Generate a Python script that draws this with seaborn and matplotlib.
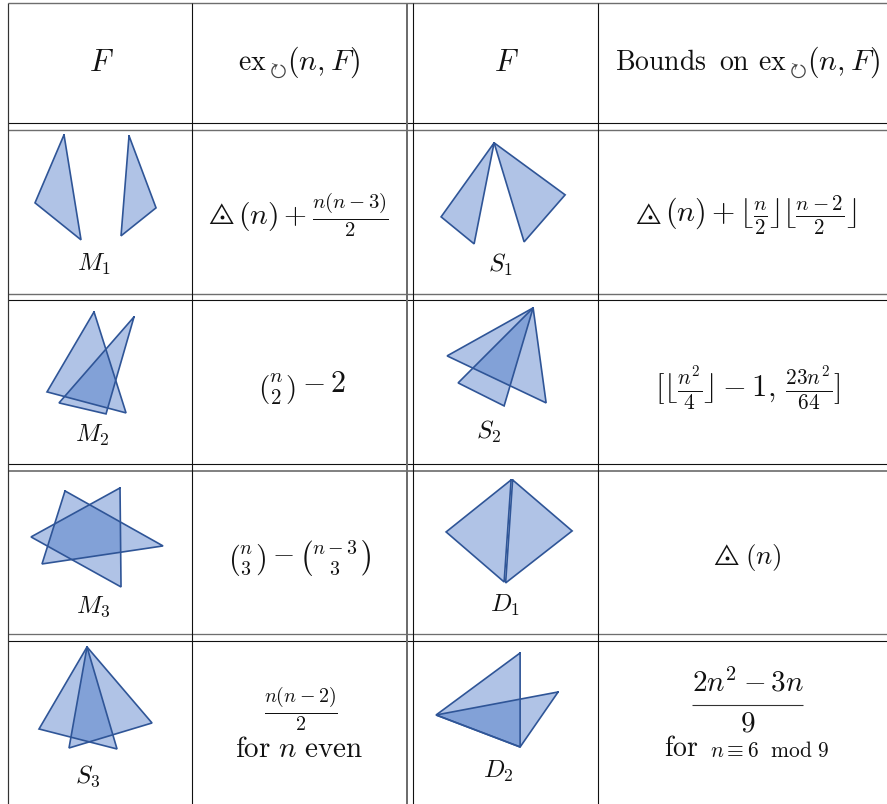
import matplotlib
matplotlib.use("Agg")
import matplotlib.pyplot as plt
import pandas as pd
import seaborn as sns

# Triangles of each configuration (vertices, image pixels)
M1 = [[(64, 135), (35, 203), (81, 240)], [(129, 136), (156, 208), (121, 236)]]
S1 = [[(494, 143), (441, 217), (474, 244)], [(494, 143), (565, 195), (524, 242)]]
M2 = [[(94, 312), (47, 392), (126, 413)], [(134, 317), (59, 403), (106, 414)]]
S2 = [[(533, 308), (447, 356), (546, 403)], [(533, 308), (458, 383), (504, 406)]]
M3 = [[(65, 491), (163, 546), (42, 564)], [(120, 488), (31, 537), (121, 587)]]
D1 = [[(511, 480), (446, 532), (504, 582)], [(512.5, 480), (572, 531), (505.5, 583)]]
S3 = [[(87, 647), (39, 729), (117, 749)], [(87, 647), (152, 723), (69, 748)]]
D2 = [[(520, 653), (436, 715), (520, 747)], [(558, 692), (436, 715), (520, 747)]]
shapes = {"M1": M1, "S1": S1, "M2": M2, "S2": S2, "M3": M3, "D1": D1, "S3": S3, "D2": D2}

# Text of the table
header_f = r"$F$"
header_ex = r"$\mathrm{ex}$"
header_bounds = r"$\mathrm{Bounds}$"
header_on = r"$\mathrm{on}$"
header_arg = r"$(n,F)$"
rotation_sign = r"$\circlearrowright$"
triangle_sign = r"$\triangle$"
shape_labels = [r"$M_1$", r"$S_1$", r"$M_2$", r"$S_2$", r"$M_3$", r"$D_1$", r"$S_3$", r"$D_2$"]
formula_m1 = r"$(n)+\frac{n(n-3)}{2}$"
formula_s1 = r"$(n)+\lfloor\frac{n}{2}\rfloor\lfloor\frac{n-2}{2}\rfloor$"
formula_m2 = r"$\binom{n}{2}-2$"
formula_s2 = r"$[\lfloor\frac{n^2}{4}\rfloor-1,\,\frac{23n^2}{64}]$"
formula_m3 = r"$\binom{n}{3}-\binom{n-3}{3}$"
formula_d1 = r"$(n)$"
formula_s3 = r"$\frac{n(n-2)}{2}$"
formula_d2_num = r"$2n^2-3n$"
formula_d2_den = r"$9$"
note_even = r"$\mathrm{for}\ n\ \mathrm{even}$"
note_for = r"$\mathrm{for}$"
note_mod = r"$n{\equiv}6\ \ \mathrm{mod}\ 9$"

sns.set_theme(style="white")
plt.rcParams["mathtext.fontset"] = "cm"
plt.rcParams["font.family"] = ["DejaVu Serif"]

W, H = 887, 804
fig = plt.figure(figsize=((W + 0.2) / 100, (H + 0.2) / 100), dpi=100)
ax = fig.add_axes([0, 0, 1, 1])

FILL, EDGE = "#4472C4", "#2F5597"
rows = []
for name, tris in shapes.items():
    for i, tri in enumerate(tris):
        ax.fill(*zip(*tri), color=FILL, alpha=0.42, lw=0)
        for x, y in list(tri) + [tri[0]]:
            rows.append({"x": x, "y": y, "u": f"{name}{i}"})
df = pd.DataFrame(rows)
sns.lineplot(data=df, x="x", y="y", units="u", estimator=None, sort=False,
             color=EDGE, lw=1.2, ax=ax, legend=False, solid_joinstyle="miter")

BLACK, GREY = "#111111", "#6e6e6e"
px = 0.72
for y, c, w in [(3.3, GREY, 1.4), (123.3, BLACK, 1.1), (130, GREY, 1.4), (294, GREY, 1.4),
                (300.3, BLACK, 1.1), (464.3, BLACK, 1.1), (470.7, GREY, 1.7), (634.3, GREY, 1.3),
                (641.3, BLACK, 1.1)]:
    ax.plot([8, W], [y, y], color=c, lw=w * px, solid_capstyle="butt")
for x, c, w in [(8.2, "#333333", 1.2), (192.3, BLACK, 1.1), (407.3, GREY, 2.0), (413.3, BLACK, 1.1),
                (597.4, BLACK, 1.1)]:
    ax.plot([x, x], [3, H], color=c, lw=w * px, solid_capstyle="butt")
ax.plot([692, 803], [705, 705], color="#333333", lw=1.1 * px, solid_capstyle="butt")

ax.set_xlim(0, W)
ax.set_ylim(H, 0)
ax.set_axis_off()

TXT = "#111111"
def put(x, y, s, size=20, ha="center", color=TXT):
    ax.text(x, y, s, fontsize=size, ha=ha, va="center", color=color)

# header row
put(101, 62, header_f, 22)
put(506, 62, header_f, 22)
put(238, 62, header_ex, ha="left")
put(276.5, 71, rotation_sign, 14, color="#444444")
put(286.5, 62, header_arg, 21.5, ha="left")
put(615, 62, header_bounds, ha="left")
put(719, 62, header_on, ha="left")
put(758, 62, header_ex, ha="left")
put(796, 71, rotation_sign, 14, color="#444444")
put(807, 62, header_arg, 21.5, ha="left")

# shape names
for (x, y), s in zip([(93.5, 264.5), (500.5, 264.5), (92.5, 435.5), (488.5, 431.5),
                      (93.5, 606.5), (504.5, 605.5), (87.5, 776.5), (498.5, 771.5)], shape_labels):
    put(x, y, s, 18)

# dotted triangles
for x, y, dx, dy in [(220.5, 213.5, 221.5, 217.5), (647.5, 213.5, 649.5, 217.5), (725.5, 554.5, 727, 558)]:
    put(x, y, triangle_sign, 16)
    ax.plot([dx], [dy], "o", ms=1.8, color=TXT)

put(237.5, 215.5, formula_m1, 21.3, ha="left")
put(664.5, 215.5, formula_s1, 21.5, ha="left")
put(744.5, 557.5, formula_d1, 19.5, ha="left")
put(301.5, 388.5, formula_m2, 21.5)
put(747.5, 387.5, formula_s2, 22)
put(299.5, 558.5, formula_m3, 20.5)
put(300.5, 709.5, formula_s3, 20.5)
put(299.5, 748.5, note_even, 21)
put(747.5, 683, formula_d2_num, 21)
put(747.5, 723, formula_d2_den, 21)
put(681.5, 748.5, note_for, 20)
put(769.5, 750.5, note_mod, 15.5)

fig.savefig("out.png", dpi=100)
